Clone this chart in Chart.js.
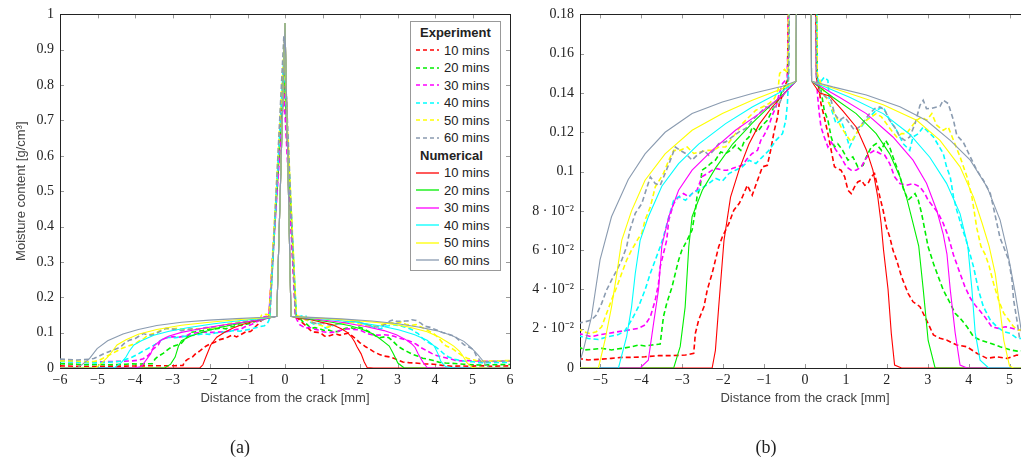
<!DOCTYPE html>
<html>
<head>
<meta charset="utf-8">
<script src="https://cdn.jsdelivr.net/npm/chart.js@4.4.1/dist/chart.umd.min.js"></script>
<style>
html,body{margin:0;padding:0;background:#fff;width:1021px;height:462px;overflow:hidden;}
.panel{position:absolute;top:0;width:525px;height:462px;}
#pa{left:0;}
#pb{left:520px;}
.cap{position:absolute;top:436px;width:60px;text-align:center;line-height:22px;font-family:'Liberation Serif',serif;font-size:18px;color:#222;}
#legend{position:absolute;left:410px;top:21px;width:91px;height:250px;border:1px solid #999;background:#fff;box-sizing:border-box;padding-top:2px;font-family:'Liberation Sans',sans-serif;font-size:13px;color:#222;}
#legend .hd{height:17.5px;line-height:17.5px;font-weight:bold;padding-left:9px;}
#legend .it{height:17.5px;display:flex;align-items:center;}
#legend .it svg{margin-left:5px;margin-right:5px;display:block;}
</style>
</head>
<body>
<div class="panel" id="pa"><canvas id="ca" width="525" height="462"></canvas></div>
<div class="panel" id="pb"><canvas id="cb" width="525" height="462"></canvas></div>
<div id="legend"></div>
<div class="cap" style="left:210px;">(a)</div>
<div class="cap" style="left:736px;">(b)</div>
<script>
// ---------- labels / ticks ----------
const seriesNames = ['10 mins','20 mins','30 mins','40 mins','50 mins','60 mins'];
const seriesColors = ['#ff0000','#00ee00','#ff00ff','#00ffff','#ffff00','#8a9bb0'];
const xTicksA = [-6,-5,-4,-3,-2,-1,0,1,2,3,4,5,6];
const xTickLabelsA = ['−6','−5','−4','−3','−2','−1','0','1','2','3','4','5','6'];
const yTicksA = [0,0.1,0.2,0.3,0.4,0.5,0.6,0.7,0.8,0.9,1];
const yTickLabelsA = ['0','0.1','0.2','0.3','0.4','0.5','0.6','0.7','0.8','0.9','1'];
const xTicksB = [-5,-4,-3,-2,-1,0,1,2,3,4,5];
const xTickLabelsB = ['−5','−4','−3','−2','−1','0','1','2','3','4','5'];
const yTicksB = [0,0.02,0.04,0.06,0.08,0.1,0.12,0.14,0.16,0.18];
const yTickLabelsB = ['0','2 · 10⁻²','4 · 10⁻²','6 · 10⁻²','8 · 10⁻²','0.1','0.12','0.14','0.16','0.18'];

// ---------- Experiment (dashed) : [distance mm, moisture g/cm3] ----------
const exp10 = [[-6,0.006],[-5.55,0.0049],[-5.30,0.0041],[-5.05,0.0044],[-4.73,0.0049],[-4.48,0.0054],[-4.24,0.0054],[-3.91,0.0057],[-3.58,0.0063],[-3.25,0.0063],[-2.92,0.0066],[-2.72,0.0075],[-2.68,0.0176],[-2.60,0.0244],[-2.47,0.0312],[-2.39,0.0397],[-2.27,0.0482],[-2.19,0.0549],[-2.11,0.0617],[-2.02,0.0668],[-1.94,0.0702],[-1.86,0.0736],[-1.74,0.0803],[-1.61,0.0837],[-1.53,0.0871],[-1.41,0.093],[-1.29,0.088],[-1.16,0.0956],[-1.04,0.1024],[-0.92,0.1032],[-0.84,0.1108],[-0.75,0.121],[-0.67,0.1278],[-0.63,0.1346],[-0.55,0.1388],[-0.51,0.143],[-0.43,0.1464],[-0.03,0.82],[0.28,0.148],[0.35,0.1414],[0.39,0.1346],[0.47,0.1278],[0.56,0.1193],[0.64,0.1108],[0.72,0.1024],[0.80,0.1015],[0.88,0.1007],[0.97,0.0973],[1.05,0.0905],[1.13,0.0888],[1.21,0.0922],[1.29,0.0947],[1.38,0.0956],[1.46,0.093],[1.54,0.0939],[1.62,0.0973],[1.70,0.099],[1.83,0.0871],[1.91,0.0803],[1.99,0.0718],[2.07,0.0668],[2.15,0.060],[2.24,0.0549],[2.36,0.0464],[2.52,0.038],[2.64,0.0337],[2.81,0.0312],[2.97,0.0244],[3.14,0.0168],[3.30,0.0151],[3.46,0.0142],[3.71,0.0117],[3.96,0.0108],[4.20,0.0075],[4.45,0.0049],[4.69,0.0057],[4.94,0.0049],[5.18,0.0066],[5.5,0.005],[6,0.006]];
const exp20 = [[-6,0.012],[-5.55,0.0108],[-5.38,0.0092],[-5.18,0.0095],[-4.97,0.010],[-4.73,0.0092],[-4.48,0.010],[-4.24,0.0108],[-4.07,0.0117],[-3.91,0.0112],[-3.74,0.0117],[-3.54,0.0122],[-3.50,0.0193],[-3.46,0.0261],[-3.38,0.0329],[-3.25,0.0413],[-3.17,0.0482],[-3.09,0.0549],[-3.01,0.060],[-2.88,0.0651],[-2.76,0.0702],[-2.68,0.0803],[-2.64,0.0871],[-2.56,0.0922],[-2.52,0.1007],[-2.39,0.1024],[-2.31,0.1041],[-2.19,0.1058],[-2.06,0.110],[-1.94,0.1092],[-1.82,0.1108],[-1.70,0.1134],[-1.57,0.1108],[-1.49,0.1151],[-1.37,0.1176],[-1.29,0.1227],[-1.16,0.1202],[-1.04,0.1236],[-0.92,0.1261],[-0.80,0.1312],[-0.71,0.1346],[-0.63,0.1371],[-0.55,0.1414],[-0.47,0.1439],[-0.41,0.147],[-0.03,0.85],[0.30,0.148],[0.39,0.1414],[0.47,0.1312],[0.56,0.1261],[0.64,0.1176],[0.72,0.1125],[0.80,0.1142],[0.92,0.1108],[1.05,0.1058],[1.17,0.1075],[1.29,0.1024],[1.42,0.1032],[1.50,0.1075],[1.62,0.1125],[1.74,0.1142],[1.87,0.1108],[1.97,0.1159],[2.07,0.1125],[2.15,0.1075],[2.24,0.1024],[2.32,0.0976],[2.40,0.0915],[2.52,0.0854],[2.69,0.0888],[2.77,0.0854],[2.85,0.0787],[2.93,0.0702],[3.01,0.0617],[3.14,0.0532],[3.26,0.0464],[3.38,0.0397],[3.55,0.0329],[3.67,0.0278],[3.79,0.0254],[3.96,0.021],[4.12,0.0159],[4.28,0.0142],[4.53,0.0126],[4.77,0.0108],[5.02,0.0092],[5.19,0.0086],[5.5,0.009],[6,0.010]];
const exp30 = [[-6,0.020],[-5.55,0.0176],[-5.38,0.0168],[-5.22,0.0159],[-5.05,0.0168],[-4.81,0.0176],[-4.56,0.0185],[-4.32,0.0193],[-4.07,0.0202],[-3.91,0.0219],[-3.78,0.0261],[-3.66,0.0346],[-3.58,0.0431],[-3.54,0.0515],[-3.46,0.0583],[-3.38,0.0651],[-3.33,0.0753],[-3.21,0.0837],[-3.09,0.0871],[-2.97,0.0888],[-2.84,0.0871],[-2.76,0.0888],[-2.64,0.0905],[-2.52,0.0973],[-2.39,0.099],[-2.27,0.1007],[-2.15,0.1015],[-2.02,0.1007],[-1.90,0.1007],[-1.78,0.1015],[-1.66,0.1024],[-1.53,0.1032],[-1.41,0.1066],[-1.29,0.1092],[-1.16,0.1108],[-1.08,0.1159],[-1.00,0.1185],[-0.88,0.1236],[-0.80,0.1286],[-0.71,0.1329],[-0.63,0.1397],[-0.55,0.1448],[-0.43,0.1475],[-0.03,0.78],[0.28,0.148],[0.31,0.138],[0.35,0.1295],[0.39,0.1227],[0.47,0.1176],[0.56,0.1125],[0.64,0.115],[0.76,0.1108],[0.88,0.1075],[1.01,0.1024],[1.13,0.1007],[1.25,0.1007],[1.38,0.1024],[1.46,0.1058],[1.58,0.1092],[1.70,0.1108],[1.83,0.1092],[1.95,0.1083],[2.07,0.1041],[2.19,0.0973],[2.32,0.0939],[2.48,0.093],[2.64,0.0939],[2.81,0.0922],[2.93,0.0888],[3.01,0.0854],[3.14,0.082],[3.26,0.0787],[3.38,0.0736],[3.50,0.0671],[3.63,0.0575],[3.79,0.0482],[3.91,0.0413],[4.04,0.0356],[4.16,0.032],[4.28,0.029],[4.40,0.0259],[4.57,0.0208],[4.73,0.0202],[4.90,0.021],[5.06,0.0202],[5.22,0.0193],[5.5,0.019],[6,0.020]];
const exp40 = [[-6,0.018],[-5.55,0.0165],[-5.30,0.015],[-5.05,0.0145],[-4.81,0.016],[-4.56,0.017],[-4.40,0.019],[-4.24,0.0244],[-4.07,0.0312],[-3.91,0.0397],[-3.78,0.0482],[-3.66,0.0549],[-3.54,0.0617],[-3.46,0.0668],[-3.33,0.0769],[-3.21,0.0854],[-3.09,0.0871],[-2.92,0.0854],[-2.76,0.0888],[-2.60,0.0905],[-2.35,0.0939],[-2.19,0.0966],[-2.02,0.0951],[-1.86,0.099],[-1.70,0.1007],[-1.53,0.1024],[-1.37,0.1058],[-1.20,0.1041],[-1.04,0.1075],[-0.88,0.1108],[-0.71,0.1159],[-0.55,0.1193],[-0.47,0.1261],[-0.43,0.1346],[-0.41,0.144],[-0.03,0.88],[0.30,0.148],[0.35,0.1448],[0.47,0.148],[0.56,0.1464],[0.60,0.1346],[0.68,0.1295],[0.76,0.1244],[0.88,0.1261],[0.97,0.121],[1.09,0.1125],[1.25,0.1193],[1.50,0.1261],[1.74,0.1312],[1.91,0.1329],[2.07,0.1261],[2.24,0.121],[2.40,0.1142],[2.56,0.1108],[2.64,0.1176],[2.77,0.1193],[2.89,0.1227],[3.14,0.1176],[3.38,0.1092],[3.46,0.1024],[3.55,0.0973],[3.63,0.0871],[3.71,0.0803],[3.82,0.0727],[3.94,0.065],[4.04,0.0575],[4.12,0.0515],[4.24,0.0397],[4.36,0.0312],[4.53,0.0244],[4.69,0.021],[4.86,0.0185],[5.02,0.0176],[5.18,0.0151],[5.5,0.015],[6,0.016]];
const exp50 = [[-6,0.020],[-5.55,0.0202],[-5.42,0.0185],[-5.26,0.0176],[-5.10,0.0185],[-4.97,0.021],[-4.85,0.0278],[-4.73,0.0346],[-4.60,0.0413],[-4.48,0.0482],[-4.36,0.0549],[-4.24,0.060],[-4.07,0.0661],[-3.99,0.0685],[-3.91,0.0753],[-3.78,0.082],[-3.66,0.0922],[-3.46,0.099],[-3.33,0.1058],[-3.21,0.1108],[-3.05,0.1108],[-2.88,0.1125],[-2.72,0.1092],[-2.56,0.110],[-2.39,0.1108],[-2.23,0.1108],[-2.11,0.1125],[-1.94,0.1125],[-1.82,0.1159],[-1.70,0.1193],[-1.53,0.1244],[-1.37,0.1278],[-1.20,0.1312],[-1.04,0.1329],[-0.88,0.1346],[-0.75,0.1371],[-0.66,0.1414],[-0.62,0.150],[-0.50,0.152],[-0.42,0.150],[-0.03,0.90],[0.30,0.150],[0.39,0.1448],[0.55,0.136],[0.68,0.1312],[0.80,0.1261],[0.88,0.1227],[1.01,0.1185],[1.13,0.1151],[1.25,0.1193],[1.38,0.1236],[1.50,0.1261],[1.62,0.1278],[1.74,0.1295],[1.87,0.1278],[1.99,0.1244],[2.11,0.121],[2.24,0.1176],[2.36,0.1193],[2.48,0.1193],[2.60,0.1227],[2.73,0.1261],[2.85,0.1278],[2.97,0.1261],[3.10,0.1295],[3.22,0.1236],[3.38,0.121],[3.50,0.1227],[3.63,0.1159],[3.79,0.1075],[3.96,0.0973],[4.08,0.0871],[4.20,0.0712],[4.30,0.062],[4.40,0.058],[4.50,0.052],[4.61,0.043],[4.73,0.0346],[4.86,0.0278],[4.98,0.0244],[5.10,0.021],[5.22,0.0193],[5.5,0.020],[6,0.021]];
const exp60 = [[-6,0.025],[-5.55,0.0227],[-5.38,0.0235],[-5.22,0.0244],[-5.10,0.027],[-4.97,0.0329],[-4.85,0.0397],[-4.73,0.0447],[-4.60,0.0498],[-4.48,0.0549],[-4.36,0.0617],[-4.28,0.0702],[-4.15,0.0787],[-3.99,0.0837],[-3.87,0.0915],[-3.78,0.0973],[-3.66,0.0939],[-3.54,0.093],[-3.42,0.099],[-3.29,0.1058],[-3.17,0.1125],[-3.05,0.1108],[-2.92,0.1092],[-2.76,0.1058],[-2.64,0.1083],[-2.47,0.1108],[-2.35,0.1083],[-2.23,0.1108],[-2.11,0.1142],[-1.94,0.1151],[-1.78,0.1176],[-1.61,0.1202],[-1.45,0.1219],[-1.29,0.1261],[-1.12,0.1295],[-0.96,0.1329],[-0.80,0.132],[-0.63,0.1346],[-0.51,0.1397],[-0.43,0.143],[-0.40,0.147],[-0.03,0.94],[0.28,0.148],[0.35,0.1414],[0.50,0.138],[0.64,0.1363],[0.72,0.1295],[0.84,0.1261],[0.97,0.1278],[1.09,0.1244],[1.21,0.121],[1.33,0.1227],[1.46,0.1261],[1.58,0.1295],[1.70,0.132],[1.83,0.1329],[1.95,0.1312],[2.07,0.1261],[2.19,0.1227],[2.32,0.1176],[2.44,0.1159],[2.56,0.1176],[2.69,0.1244],[2.81,0.1337],[2.89,0.1363],[2.97,0.132],[3.10,0.1322],[3.22,0.1329],[3.30,0.1332],[3.38,0.1363],[3.50,0.1346],[3.63,0.1261],[3.71,0.1185],[3.87,0.1149],[4.04,0.1075],[4.20,0.1007],[4.36,0.0956],[4.53,0.0888],[4.61,0.0814],[4.69,0.0736],[4.77,0.0661],[4.85,0.062],[4.98,0.0549],[5.06,0.0447],[5.10,0.0346],[5.18,0.0244],[5.24,0.0159],[5.4,0.018],[6,0.020]];

// ---------- Numerical (solid) ----------
const num10 = [[-6,0],[-2.27,0],[-2.19,0.009],[-2.11,0.031],[-1.98,0.065],[-1.82,0.087],[-1.61,0.101],[-1.37,0.114],[-1.12,0.124],[-0.80,0.133],[-0.47,0.1405],[-0.22,0.146],[0,0.975],[0.16,0.146],[0.36,0.140],[0.60,0.1385],[0.92,0.131],[1.25,0.1227],[1.50,0.111],[1.66,0.1007],[1.78,0.087],[1.86,0.0737],[1.92,0.060],[2.03,0.040],[2.11,0.0175],[2.19,0.0015],[2.36,0],[6,0]];
const num20 = [[-6,0],[-3.21,0],[-3.05,0.011],[-2.93,0.031],[-2.84,0.062],[-2.76,0.077],[-2.51,0.0905],[-2.18,0.102],[-1.77,0.114],[-1.29,0.1246],[-0.88,0.1329],[-0.51,0.1397],[-0.22,0.146],[0,0.975],[0.16,0.146],[0.68,0.1378],[1.25,0.1295],[1.74,0.1193],[2.07,0.109],[2.32,0.0974],[2.48,0.087],[2.64,0.0737],[2.78,0.062],[2.89,0.040],[3.01,0.014],[3.18,0],[6,0]];
const num30 = [[-6,0],[-4.03,0],[-3.83,0.004],[-3.70,0.023],[-3.58,0.040],[-3.50,0.062],[-3.33,0.077],[-3.09,0.0905],[-2.76,0.1007],[-2.27,0.1108],[-1.70,0.121],[-1.12,0.1295],[-0.55,0.1388],[-0.22,0.146],[0,0.975],[0.16,0.146],[0.84,0.1378],[1.50,0.1295],[2.15,0.1176],[2.64,0.1058],[2.97,0.094],[3.22,0.0803],[3.38,0.068],[3.47,0.058],[3.55,0.040],[3.67,0.018],[3.79,0.0015],[3.96,0],[6,0]];
const num40 = [[-6,0],[-4.56,0],[-4.36,0.016],[-4.24,0.031],[-4.15,0.048],[-4.03,0.065],[-3.83,0.077],[-3.50,0.0925],[-3.09,0.104],[-2.60,0.114],[-1.94,0.1244],[-1.29,0.1329],[-0.55,0.141],[-0.22,0.146],[0,0.975],[0.16,0.146],[1.09,0.1378],[1.91,0.1295],[2.56,0.119],[3.05,0.1073],[3.46,0.094],[3.79,0.0786],[3.98,0.062],[4.08,0.040],[4.16,0.018],[4.28,0.004],[4.49,0],[6,0]];
const num50 = [[-6,0],[-5.05,0],[-4.89,0.014],[-4.73,0.031],[-4.60,0.048],[-4.48,0.065],[-4.24,0.080],[-3.91,0.0956],[-3.42,0.109],[-2.76,0.121],[-2.02,0.1295],[-1.29,0.1363],[-0.55,0.1423],[-0.22,0.146],[0,0.975],[0.16,0.146],[1.09,0.1397],[1.91,0.134],[2.73,0.1261],[3.30,0.1159],[3.79,0.1024],[4.12,0.087],[4.33,0.0737],[4.50,0.062],[4.65,0.048],[4.76,0.031],[4.86,0.014],[5.0,0.001],[5.1,0],[6,0]];
const num60 = [[-6,0],[-5.55,0],[-5.42,0.009],[-5.22,0.026],[-5.01,0.055],[-4.73,0.077],[-4.32,0.096],[-3.91,0.109],[-3.42,0.120],[-2.76,0.1295],[-2.02,0.1354],[-1.29,0.1397],[-0.55,0.1434],[-0.22,0.146],[0,0.975],[0.16,0.146],[0.68,0.1431],[1.50,0.139],[2.32,0.133],[2.97,0.126],[3.55,0.1159],[4.04,0.1058],[4.45,0.0922],[4.77,0.0753],[4.94,0.060],[5.02,0.0515],[5.14,0.038],[5.25,0.024],[5.35,0.010],[5.45,0],[6,0]];

const expSeries = [exp10,exp20,exp30,exp40,exp50,exp60];
const numSeries = [num10,num20,num30,num40,num50,num60];

// ---------- frame + inward ticks ----------
const framePlugin = {
  id:'frame',
  beforeDatasetsDraw(chart){
    const {ctx, chartArea:{left,right,top,bottom}, scales:{x,y}} = chart;
    ctx.save();
    ctx.strokeStyle = '#999';
    ctx.lineWidth = 1;
    ctx.beginPath();
    x.ticks.forEach(t=>{
      const px = Math.round(x.getPixelForValue(t.value)) + 0.5;
      ctx.moveTo(px, bottom); ctx.lineTo(px, bottom-4);
      ctx.moveTo(px, top); ctx.lineTo(px, top+4);
    });
    y.ticks.forEach(t=>{
      const py = Math.round(y.getPixelForValue(t.value)) + 0.5;
      ctx.moveTo(left, py); ctx.lineTo(left+4, py);
      ctx.moveTo(right, py); ctx.lineTo(right-4, py);
    });
    ctx.stroke();
    ctx.strokeStyle = '#222';
    ctx.strokeRect(Math.round(left)+0.5, Math.round(top)+0.5, Math.round(right-left), Math.round(bottom-top));
    ctx.restore();
  }
};

function buildDatasets(){
  const ds = [];
  expSeries.forEach((s,i)=>ds.push({
    data:s.map(p=>({x:p[0],y:p[1]})), showLine:true, fill:false,
    borderColor:seriesColors[i], borderWidth:1.6, borderDash:[5,3],
    pointRadius:0, tension:0
  }));
  numSeries.forEach((s,i)=>ds.push({
    data:s.map(p=>({x:p[0],y:p[1]})), showLine:true, fill:false,
    borderColor:seriesColors[i], borderWidth:1.1,
    pointRadius:0, tension:0
  }));
  const N = ds.length;
  ds.forEach((d,i)=>{ d.order = N - i; });
  return ds;
}

function makeChart(id, xr, yr, xt, xl, yt, yl, yTitle){
  const tickFont = {family:"'Liberation Serif', serif", size:14};
  return new Chart(document.getElementById(id), {
    type:'scatter',
    data:{datasets:buildDatasets()},
    options:{
      responsive:false, animation:false, devicePixelRatio:1,
      layout:{padding:{left:0, top:14, right:15, bottom:0}},
      plugins:{legend:{display:false}, tooltip:{enabled:false}},
      scales:{
        x:{
          type:'linear', min:xr[0], max:xr[1],
          afterFit:s=>{ s.height = 94; },
          afterBuildTicks:s=>{ s.ticks = xt.map(v=>({value:v})); },
          grid:{display:false, drawTicks:false}, border:{display:false},
          ticks:{callback:(v,i)=>xl[i], font:tickFont, color:'#222', padding:4, maxRotation:0, autoSkip:false},
          title:{display:true, text:'Distance from the crack [mm]', font:{family:"'Liberation Sans', sans-serif", size:13}, color:'#444', padding:{top:0, bottom:56}}
        },
        y:{
          type:'linear', min:yr[0], max:yr[1],
          afterFit:s=>{ s.width = 60; },
          afterBuildTicks:s=>{ s.ticks = yt.map(v=>({value:v})); },
          grid:{display:false, drawTicks:false}, border:{display:false},
          ticks:{callback:(v,i)=>yl[i], font:tickFont, color:'#222', padding:6, autoSkip:false},
          title:{display:!!yTitle, text:yTitle || '', font:{family:"'Liberation Sans', sans-serif", size:13}, color:'#444', padding:{top:14, bottom:0}}
        }
      }
    },
    plugins:[framePlugin]
  });
}

makeChart('ca', [-6,6], [0,1], xTicksA, xTickLabelsA, yTicksA, yTickLabelsA, 'Moisture content [g/cm³]');
makeChart('cb', [-5.5,5.5], [0,0.18], xTicksB, xTickLabelsB, yTicksB, yTickLabelsB, null);

// ---------- legend (panel a) ----------
const leg = document.getElementById('legend');
function addHeader(t){ const d=document.createElement('div'); d.className='hd'; d.textContent=t; leg.appendChild(d); }
function addItem(name, color, dashed){
  const d = document.createElement('div'); d.className='it';
  d.innerHTML = '<svg width="23" height="6"><line x1="0" y1="3" x2="23" y2="3" stroke="'+color+'" stroke-width="'+(dashed?1.6:1.3)+'"'+(dashed?' stroke-dasharray="4 3"':'')+'/></svg>';
  const sp = document.createElement('span'); sp.textContent = name; d.appendChild(sp);
  leg.appendChild(d);
}
addHeader('Experiment');
seriesNames.forEach((n,i)=>addItem(n, seriesColors[i], true));
addHeader('Numerical');
seriesNames.forEach((n,i)=>addItem(n, seriesColors[i], false));
</script>
</body>
</html>
